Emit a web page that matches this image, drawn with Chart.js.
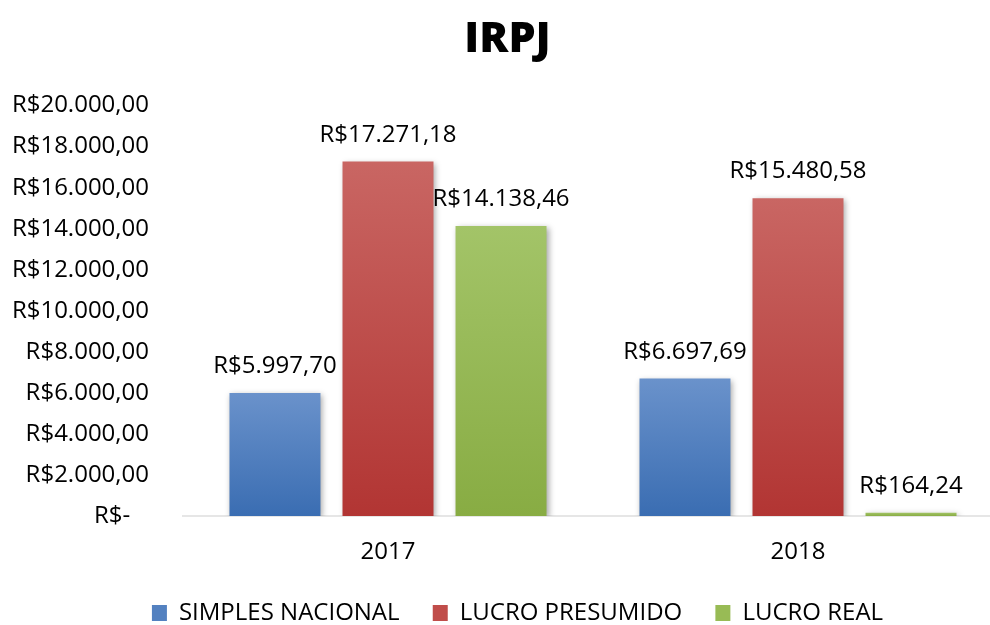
<!DOCTYPE html>
<html>
<head>
<meta charset="utf-8">
<script src="https://cdn.jsdelivr.net/npm/chart.js@4/dist/chart.umd.min.js"></script>
<style>
  html, body { margin: 0; padding: 0; background: #fff; }
  #wrap { width: 990px; height: 625px; overflow: hidden; }
</style>
</head>
<body>
<div id="wrap"><canvas id="irpjChart" width="1024" height="625"></canvas></div>
<script>
const years = ["2017", "2018"];
const simplesNacional = [5997.70, 6697.69];
const lucroPresumido = [17271.18, 15480.58];
const lucroReal = [14138.46, 164.24];
const yTicks = [0, 2000, 4000, 6000, 8000, 10000, 12000, 14000, 16000, 18000, 20000];

// formato R$ brasileiro
function brl(v) {
  const parts = v.toFixed(2).split(".");
  const int = parts[0].replace(/\B(?=(\d{3})+(?!\d))/g, ".");
  return "R$" + int + "," + parts[1];
}

function barGradient(top, bottom) {
  return (context) => {
    const chart = context.chart;
    if (!chart.chartArea || context.type !== "data") return bottom;
    const y = chart.scales.y;
    const yTop = y.getPixelForValue(context.raw);
    const yBase = y.getPixelForValue(0);
    if (!isFinite(yTop) || Math.abs(yBase - yTop) < 1) return bottom;
    const g = chart.ctx.createLinearGradient(0, yTop, 0, yBase);
    g.addColorStop(0, top);
    g.addColorStop(1, bottom);
    return g;
  };
}

function draw() {
  const ctx = document.getElementById("irpjChart").getContext("2d");

  new Chart(ctx, {
    type: "bar",
    data: {
      labels: years,
      datasets: [
        {
          label: "SIMPLES NACIONAL",
          data: simplesNacional,
          backgroundColor: barGradient("#6a92cb", "#3a6db2"),
          legendColor: "#5381c0",
        },
        {
          label: "LUCRO PRESUMIDO",
          data: lucroPresumido,
          backgroundColor: barGradient("#c96663", "#b23533"),
          legendColor: "#c04d4a",
        },
        {
          label: "LUCRO REAL",
          data: lucroReal,
          backgroundColor: barGradient("#a3c468", "#88ac43"),
          legendColor: "#98bb55",
        },
      ],
    },
    options: {
      responsive: false,
      animation: false,
      devicePixelRatio: 1,
      categoryPercentage: 0.827,
      barPercentage: 0.805,
      layout: { padding: { left: 12, right: 21, top: 0, bottom: 0 } },
      plugins: {
        title: {
          display: true,
          text: "IRPJ",
          color: "#000",
          font: { family: "Open Sans", size: 43, weight: "800" },
          padding: { top: 14, bottom: 40 },
        },
        legend: {
          position: "bottom",
          labels: {
            color: "#000",
            font: { family: "Open Sans", size: 24 },
            boxWidth: 15,
            boxHeight: 16,
            padding: 2,
            // espaço extra entre itens da legenda
            generateLabels: (chart) =>
              chart.data.datasets.map((ds, i, all) => ({
                text: i < all.length - 1 ? ds.label + "     " : ds.label,
                fillStyle: ds.legendColor,
                strokeStyle: ds.legendColor,
                lineWidth: 0,
                datasetIndex: i,
                fontColor: "#000",
              })),
          },
        },
        tooltip: { enabled: false },
      },
      scales: {
        x: {
          grid: { display: false },
          border: { display: true, color: "#e6e6e6", width: 2 },
          afterFit: (scale) => {
            scale.height = 83;
          },
          ticks: {
            color: "#000",
            font: { family: "Open Sans", size: 24 },
            padding: 14,
          },
        },
        y: {
          min: 0,
          max: 20000,
          afterBuildTicks: (axis) => {
            axis.ticks = yTicks.map((v) => ({ value: v }));
          },
          afterFit: (scale) => {
            scale.width = 171;
          },
          grid: { display: false },
          border: { display: false },
          ticks: {
            color: "#000",
            font: { family: "Open Sans", size: 24 },
            padding: 26,
            callback: (v) => (v === 0 ? "R$-   " : brl(v)),
          },
        },
      },
    },
    plugins: [
      {
        id: "legendHeight",
        afterInit: (chart) => {
          const lg = chart.legend;
          if (!lg) return;
          const fit = lg.fit.bind(lg);
          lg.fit = function () {
            fit();
            this.height = 26;
          };
        },
        afterLayout: (chart) => {
          // legenda um pouco à direita, como no original
          if (chart.legend) chart.legend.left += 20;
        },
      },
      {
        id: "barShadow",
        beforeDatasetsDraw: (chart) => {
          const c = chart.ctx;
          c.save();
          c.shadowColor = "rgba(0,0,0,0.35)";
          c.shadowBlur = 6;
          c.shadowOffsetX = 2;
          c.shadowOffsetY = 2;
        },
        afterDatasetsDraw: (chart) => {
          chart.ctx.restore();
        },
      },
      {
        id: "valueLabels",
        afterDraw: (chart) => {
          const c = chart.ctx;
          c.save();
          c.fillStyle = "#000";
          c.font = "24px 'Open Sans'";
          c.textAlign = "center";
          c.textBaseline = "alphabetic";
          chart.data.datasets.forEach((ds, i) => {
            chart.getDatasetMeta(i).data.forEach((bar, j) => {
              c.fillText(brl(ds.data[j]), bar.x, bar.y - 20);
            });
          });
          c.restore();
        },
      },
    ],
  });
}

Promise.all([
  document.fonts.load("24px 'Open Sans'"),
  document.fonts.load("800 43px 'Open Sans'"),
]).then(draw, draw);
</script>
</body>
</html>
